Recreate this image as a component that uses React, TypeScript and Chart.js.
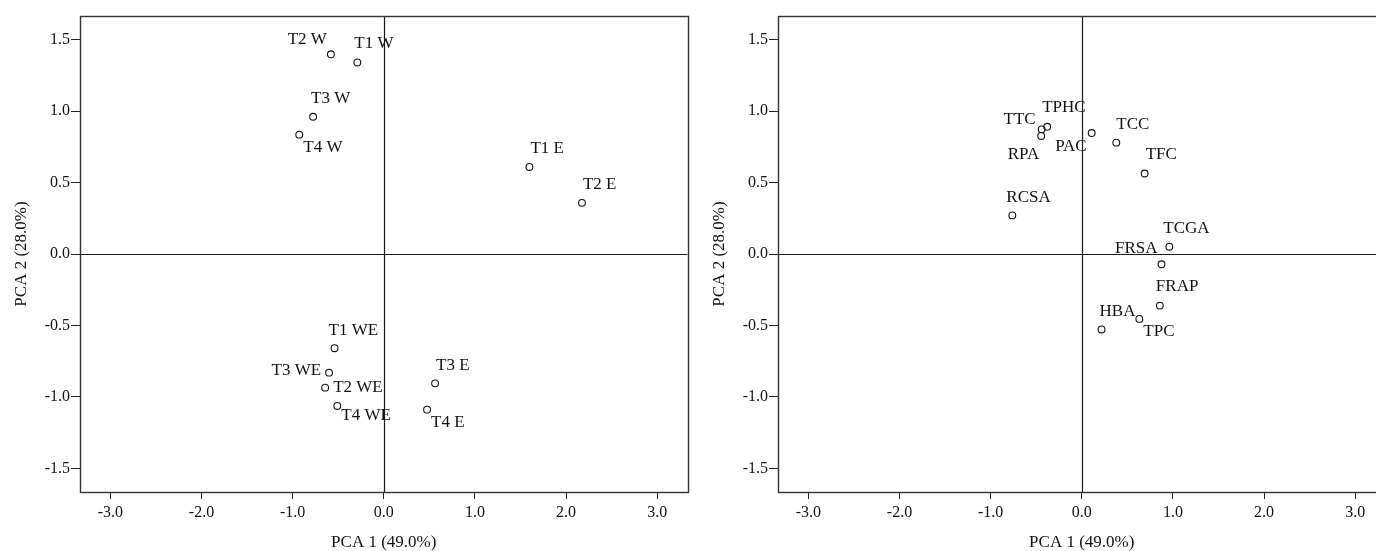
import React, { useEffect, useRef } from "react";
import { Chart, registerables } from "chart.js";

Chart.register(...registerables);

// ---------- data ----------
const xTickValues = [-3, -2, -1, 0, 1, 2, 3];
const yTickValues = [-1.5, -1, -0.5, 0, 0.5, 1, 1.5];
const xAxisTitle = "PCA 1 (49.0%)";
const yAxisTitle = "PCA 2 (28.0%)";

// Scores plot (samples)
const sampleLabels = ["T1 W", "T2 W", "T3 W", "T4 W", "T1 E", "T2 E", "T3 E", "T4 E", "T1 WE", "T2 WE", "T3 WE", "T4 WE"];
const samplePC1 = [-0.29, -0.58, -0.775, -0.927, 1.598, 2.175, 0.563, 0.475, -0.54, -0.643, -0.6, -0.51];
const samplePC2 = [1.34, 1.397, 0.96, 0.835, 0.609, 0.358, -0.905, -1.089, -0.659, -0.935, -0.83, -1.063];

// Loadings plot (variables)
const variableLabels = ["TTC", "TPHC", "RPA", "PAC", "TCC", "TFC", "RCSA", "TCGA", "FRSA", "FRAP", "HBA", "TPC"];
const variablePC1 = [-0.44, -0.379, -0.445, 0.109, 0.379, 0.69, -0.762, 0.961, 0.875, 0.857, 0.217, 0.632];
const variablePC2 = [0.872, 0.89, 0.826, 0.846, 0.779, 0.563, 0.27, 0.051, -0.072, -0.361, -0.528, -0.454];

// ---------- label placement (layout only) ----------
type Place = [number, number, "left" | "right"]; // dx px, dy px, text alignment
const samplePlacement: Place[] = [
  [-3, -19, "left"], [-4, -15, "right"], [-2, -18, "left"], [4, 13, "left"],
  [1, -18, "left"], [1, -18, "left"], [1, -18, "left"], [4, 13, "left"],
  [-6, -18, "left"], [8, 0, "left"], [-8, -2, "right"], [4, 10, "left"],
];
const variablePlacement: Place[] = [
  [-6, -10, "right"], [-5, -19, "left"], [-2, 19, "right"], [-5, 13, "right"],
  [0, -18, "left"], [1, -19, "left"], [-6, -18, "left"], [-6, -18, "left"],
  [-4, -16, "right"], [-4, -19, "left"], [-2, -18, "left"], [4, 13, "left"],
];

// ---------- styling ----------
const FONT_FAMILY = "'Liberation Serif', 'Times New Roman', serif";
const INK = "#111";
const CANVAS_W = 698;
const CANVAS_H = 551;

const framePlugin = {
  id: "frameAndZero",
  beforeDatasetsDraw(chart: any) {
    const { ctx, chartArea, scales } = chart;
    const x0 = Math.round(scales.x.getPixelForValue(0)) + 0.5;
    const y0 = Math.round(scales.y.getPixelForValue(0)) + 0.5;
    ctx.save();
    ctx.strokeStyle = "#1a1a1a";
    ctx.lineWidth = 1.2;
    ctx.beginPath();
    ctx.moveTo(x0, chartArea.top);
    ctx.lineTo(x0, chartArea.bottom);
    ctx.moveTo(chartArea.left, y0);
    ctx.lineTo(chartArea.right, y0);
    ctx.stroke();
    ctx.lineWidth = 1.4;
    ctx.strokeStyle = "#333";
    ctx.strokeRect(
      Math.round(chartArea.left) + 0.5,
      Math.round(chartArea.top) + 0.5,
      Math.round(chartArea.right - chartArea.left),
      Math.round(chartArea.bottom - chartArea.top)
    );
    ctx.restore();
  },
};

const makeLabelPlugin = (labels: string[], placement: Place[]) => ({
  id: "pointLabels",
  afterDatasetsDraw(chart: any) {
    const { ctx } = chart;
    const meta = chart.getDatasetMeta(0);
    ctx.save();
    ctx.font = `17px ${FONT_FAMILY}`;
    ctx.fillStyle = INK;
    ctx.textBaseline = "middle";
    meta.data.forEach((pt: any, i: number) => {
      const [dx, dy, align] = placement[i];
      ctx.textAlign = align;
      ctx.fillText(labels[i], pt.x + dx, pt.y + dy);
    });
    ctx.restore();
  },
});

function PcaChart({ labels, xs, ys, placement }: { labels: string[]; xs: number[]; ys: number[]; placement: Place[] }) {
  const ref = useRef<HTMLCanvasElement | null>(null);
  useEffect(() => {
    if (!ref.current) return;
    const tickFont = { family: FONT_FAMILY, size: 16 };
    const titleFont = { family: FONT_FAMILY, size: 17 };
    const chart = new Chart(ref.current, {
      type: "scatter",
      data: {
        datasets: [
          {
            data: xs.map((x, i) => ({ x, y: ys[i] })),
            pointRadius: 3.4,
            pointHoverRadius: 3.4,
            pointBorderWidth: 1.1,
            borderColor: "#111",
            backgroundColor: "rgba(255,255,255,0)",
          },
        ],
      },
      options: {
        animation: false,
        responsive: false,
        events: [],
        layout: { padding: { top: 16, right: 10.5, bottom: 0, left: 0 } },
        plugins: { legend: { display: false }, tooltip: { enabled: false } },
        scales: {
          x: {
            type: "linear",
            min: -3.333,
            max: 3.333,
            afterBuildTicks: (s: any) => {
              s.ticks = xTickValues.map((v) => ({ value: v }));
            },
            afterFit: (s: any) => {
              s.height = 59;
            },
            grid: { drawOnChartArea: false, drawTicks: true, tickLength: 7, tickColor: "#222", color: "#222" },
            border: { display: false },
            ticks: {
              callback: (v: any) => Number(v).toFixed(1),
              font: tickFont,
              color: INK,
              padding: 4,
              maxRotation: 0,
              autoSkip: false,
            },
            title: { display: true, text: xAxisTitle, font: titleFont, color: INK, padding: { top: 0, bottom: -2 } },
          },
          y: {
            type: "linear",
            min: -1.665,
            max: 1.665,
            afterBuildTicks: (s: any) => {
              s.ticks = yTickValues.map((v) => ({ value: v }));
            },
            afterFit: (s: any) => {
              s.width = 80;
            },
            grid: { drawOnChartArea: false, drawTicks: true, tickLength: 9, tickColor: "#222", color: "#222" },
            border: { display: false },
            ticks: {
              callback: (v: any) => Number(v).toFixed(1),
              font: tickFont,
              color: INK,
              padding: 1,
              autoSkip: false,
            },
            title: { display: true, text: yAxisTitle, font: titleFont, color: INK, padding: { top: 11, bottom: 0 } },
          },
        },
      } as any,
      plugins: [framePlugin, makeLabelPlugin(labels, placement)],
    });
    return () => chart.destroy();
  }, [labels, xs, ys, placement]);
  return <canvas ref={ref} width={CANVAS_W} height={CANVAS_H} style={{ width: CANVAS_W, height: CANVAS_H, display: "block" }} />;
}

export default function App() {
  return (
    <div
      style={{
        position: "fixed",
        left: 0,
        top: 0,
        width: 1376,
        height: 551,
        overflow: "hidden",
        background: "#fff",
      }}
    >
      <div style={{ position: "absolute", left: 0, top: 0 }}>
        <PcaChart labels={sampleLabels} xs={samplePC1} ys={samplePC2} placement={samplePlacement} />
      </div>
      <div style={{ position: "absolute", left: CANVAS_W, top: 0 }}>
        <PcaChart labels={variableLabels} xs={variablePC1} ys={variablePC2} placement={variablePlacement} />
      </div>
    </div>
  );
}
